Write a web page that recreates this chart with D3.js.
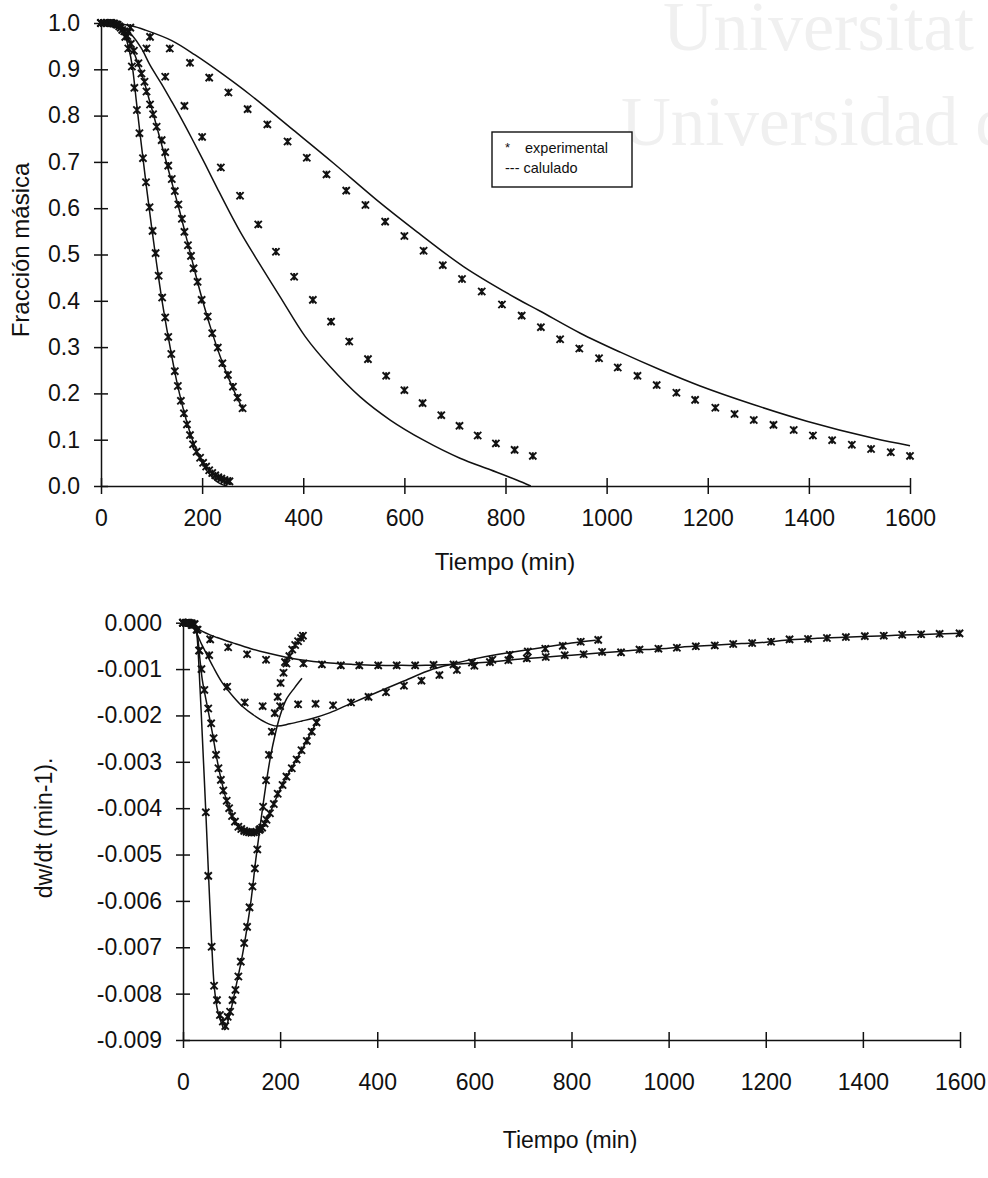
<!DOCTYPE html>
<html>
<head>
<meta charset="utf-8">
<script src="https://cdn.jsdelivr.net/npm/d3@7"></script>
<style>
  html, body { margin: 0; padding: 0; background: #fff; }
  svg { display: block; }
  text { font-family: "Liberation Sans", Arial, Helvetica, sans-serif; fill: #111; }
</style>
</head>
<body>
<svg id="chart" width="988" height="1178"></svg>
<script>
// ---------- tick values ----------
const tiempoTicks = [0, 200, 400, 600, 800, 1000, 1200, 1400, 1600];
const fraccionTicks = [0, 0.1, 0.2, 0.3, 0.4, 0.5, 0.6, 0.7, 0.8, 0.9, 1.0];
const dwdtTicks = [0, -0.001, -0.002, -0.003, -0.004, -0.005, -0.006, -0.007, -0.008, -0.009];

// ---------- mass fraction vs time: experimental [t (min), w] ----------
const masaExp1 = [[0,1.0],[6,1.0],[12,1.0],[18,1.0],[24,0.999],[30,0.997],[36,0.993],[42,0.985],[48,0.97],
  [54,0.945],[61,0.906],[66,0.860],[71,0.812],[76,0.762],[83,0.708],[89,0.656],[96,0.602],[102,0.551],
  [108,0.503],[114,0.454],[121,0.407],[127,0.364],[133,0.322],[139,0.285],[146,0.248],[152,0.216],
  [158,0.184],[164,0.157],[170,0.133],[176,0.110],[182,0.090],[189,0.074],[196,0.061],[202,0.050],
  [208,0.042],[214,0.034],[220,0.028],[226,0.023],[232,0.019],[238,0.016],[244,0.013],[250,0.011],[254,0.010]];
const masaExp2 = [[0,1.0],[7,1.0],[13,1.0],[20,1.0],[26,0.999],[33,0.996],[39,0.99],[46,0.982],[52,0.972],
  [59,0.955],[65,0.94],[74,0.913],[80,0.891],[86,0.873],[90,0.852],[97,0.824],[103,0.803],[110,0.776],
  [120,0.747],[127,0.721],[133,0.692],[140,0.663],[146,0.637],[153,0.608],[160,0.577],[165,0.549],
  [172,0.52],[178,0.497],[183,0.470],[191,0.441],[199,0.402],[211,0.366],[220,0.330],[231,0.299],
  [240,0.265],[251,0.240],[261,0.2145],[270,0.191],[280,0.168]];
const masaExp3 = [[0,1.0],[18,1.0],[54,0.98],[90,0.945],[127,0.884],[165,0.821],[200,0.754],[237,0.688],
  [275,0.627],[311,0.565],[346,0.506],[382,0.452],[419,0.402],[455,0.355],[491,0.312],[528,0.274],
  [564,0.238],[600,0.207],[636,0.179],[673,0.153],[709,0.130],[745,0.109],[781,0.092],[818,0.078],[854,0.065]];
const masaExp4 = [[0,1.0],[20,1.0],[58,0.99],[97,0.970],[136,0.945],[176,0.914],[214,0.882],[252,0.850],
  [290,0.814],[329,0.781],[369,0.744],[407,0.709],[446,0.673],[485,0.638],[523,0.607],[562,0.571],
  [600,0.540],[638,0.508],[676,0.477],[714,0.447],[753,0.420],[793,0.392],[832,0.368],[870,0.343],
  [908,0.317],[946,0.297],[985,0.276],[1022,0.256],[1061,0.238],[1099,0.218],[1138,0.2015],[1175,0.186],
  [1215,0.169],[1253,0.1555],[1291,0.1425],[1330,0.132],[1370,0.121],[1408,0.109],[1446,0.099],
  [1485,0.089],[1523,0.080],[1562,0.073],[1600,0.065]];

// ---------- mass fraction vs time: model ----------
const masaCalc1 = [[0,1],[20,1],[35,0.995],[45,0.98],[55,0.945],[62,0.906],[70,0.83],[80,0.735],[90,0.645],
  [100,0.56],[110,0.48],[120,0.405],[130,0.34],[140,0.28],[150,0.225],[160,0.178],[170,0.137],[180,0.102],
  [190,0.073],[200,0.05],[210,0.032],[220,0.019],[230,0.009],[240,0.003],[250,0]];
const masaCalc2 = [[0,1],[30,1],[45,0.99],[55,0.965],[65,0.937],[75,0.907],[85,0.874],[95,0.836],[105,0.797],
  [115,0.757],[125,0.717],[135,0.676],[145,0.636],[155,0.596],[165,0.553],[175,0.51],[185,0.466],
  [195,0.424],[205,0.385],[215,0.348],[225,0.314],[235,0.282],[245,0.253],[255,0.226],[265,0.201],
  [275,0.178],[280,0.168]];
const masaCalc3 = [[0,1],[30,0.998],[50,0.985],[61,0.974],[80,0.945],[97,0.909],[120,0.868],[140,0.83],
  [158,0.795],[180,0.75],[206,0.695],[230,0.643],[255,0.59],[280,0.54],[305,0.495],[354,0.409],
  [404,0.3225],[453,0.258],[512,0.193],[572,0.1425],[638,0.099],[710,0.060],[770,0.035],[822,0.013],[850,0]];
const masaCalc4 = [[0,1],[30,0.999],[60,0.994],[87,0.985],[140,0.962],[186,0.931],[240,0.89],[295,0.845],
  [380,0.769],[460,0.697],[545,0.618],[625,0.549],[717,0.474],[822,0.405],[868,0.378],[948,0.330],
  [1027,0.289],[1106,0.251],[1185,0.216],[1290,0.176],[1396,0.140],[1528,0.103],[1600,0.087]];

// ---------- rate dw/dt vs time: experimental [t (min), dw/dt (min-1)] ----------
const dwdtExp1 = [[0,0],[6,0],[12,0],[18,-0.00001],[24,-0.00003],[30,-0.00015],[34,-0.0006],
  [47,-0.00409],[52,-0.00546],[59,-0.00699],[64,-0.00783],[70,-0.00814],[76,-0.00846],[82,-0.0086],
  [87,-0.0087],[92,-0.0085],[97,-0.00839],[102,-0.00814],[108,-0.00792],[114,-0.00763],[119,-0.00731],
  [126,-0.00691],[132,-0.00656],[137,-0.00614],[143,-0.00569],[148,-0.0053],[153,-0.00489],[159,-0.00445],
  [165,-0.00397],[171,-0.0034],[177,-0.00285],[183,-0.00235],[189,-0.00195],[195,-0.0016],[201,-0.0013],
  [207,-0.00108],[213,-0.00088],[219,-0.00072],[225,-0.00058],[231,-0.00048],[237,-0.0004],[243,-0.00033],[247,-0.00028]];
const dwdtExp2 = [[0,0],[8,0],[15,-0.00001],[22,-0.00004],[28,-0.00015],[33,-0.0006],[38,-0.001],
  [44,-0.00145],[52,-0.00185],[58,-0.00217],[63,-0.00249],[68,-0.00285],[73,-0.00314],[78,-0.00339],
  [83,-0.00362],[90,-0.00384],[95,-0.004],[101,-0.00417],[107,-0.00429],[114,-0.0044],[120,-0.00445],
  [126,-0.00449],[131,-0.00451],[136,-0.00452],[141,-0.00453],[146,-0.00452],[151,-0.00451],[157,-0.00447],
  [163,-0.00442],[168,-0.00433],[172,-0.00425],[179,-0.00411],[187,-0.00391],[195,-0.00369],[205,-0.0035],
  [213,-0.00332],[224,-0.00314],[234,-0.00295],[244,-0.00275],[255,-0.00255],[265,-0.00235],[275,-0.00215]];
const dwdtExp3 = [[0,0],[18,-0.00005],[54,-0.0007],[91,-0.00138],[127,-0.00172],[164,-0.0018],[200,-0.0018],
  [237,-0.00176],[273,-0.00175],[309,-0.00178],[346,-0.00172],[382,-0.0016],[418,-0.0015],[455,-0.00136],
  [491,-0.00125],[528,-0.00113],[564,-0.00102],[600,-0.00093],[637,-0.0008],[673,-0.00069],[710,-0.00062],
  [746,-0.00056],[782,-0.0005],[819,-0.00041],[855,-0.00037]];
const dwdtExp4 = [[0,0],[10,0],[20,-0.00005],[56,-0.00036],[93,-0.00053],[132,-0.00068],[171,-0.0008],
  [210,-0.00085],[248,-0.00088],[286,-0.0009],[325,-0.00092],[363,-0.00092],[402,-0.00092],[440,-0.00092],
  [478,-0.00092],[516,-0.00091],[557,-0.0009],[595,-0.00086],[632,-0.00085],[670,-0.00081],[708,-0.00077],
  [747,-0.00074],[786,-0.0007],[825,-0.00068],[863,-0.00063],[902,-0.00064],[940,-0.00058],[979,-0.00056],
  [1017,-0.00054],[1056,-0.00051],[1095,-0.00049],[1133,-0.00046],[1172,-0.00044],[1211,-0.00041],
  [1249,-0.00036],[1287,-0.00035],[1326,-0.00033],[1365,-0.00031],[1404,-0.00029],[1443,-0.00028],
  [1481,-0.00026],[1520,-0.00025],[1558,-0.00024],[1599,-0.00023]];

// ---------- rate dw/dt vs time: model ----------
const dwdtCalc1 = [[0,0],[20,-0.00002],[26,-0.0001],[29,-0.0003],[35,-0.0014],[40,-0.0025],[47,-0.00409],
  [52,-0.0053],[59,-0.0069],[64,-0.0078],[70,-0.0083],[78,-0.0086],[86,-0.00878],[95,-0.0085],[102,-0.0082],
  [110,-0.0078],[120,-0.0073],[130,-0.0067],[140,-0.006],[150,-0.0051],[160,-0.0043],[170,-0.00355],
  [180,-0.0029],[190,-0.0024],[200,-0.002],[213,-0.00165],[230,-0.0014],[245,-0.0012]];
const dwdtCalc2 = [[0,0],[15,-0.00001],[25,-0.00008],[30,-0.0003],[35,-0.0008],[40,-0.00125],[50,-0.0018],
  [60,-0.00235],[70,-0.00295],[80,-0.00345],[90,-0.00385],[100,-0.00415],[110,-0.00435],[120,-0.00446],
  [130,-0.00452],[140,-0.00454],[150,-0.0045],[160,-0.00442],[170,-0.00428],[180,-0.00408],[190,-0.00383],
  [200,-0.0036],[210,-0.00338],[220,-0.0032],[230,-0.00302],[240,-0.00283],[250,-0.00264],[260,-0.00244],
  [270,-0.00224],[280,-0.00205]];
const dwdtCalc3 = [[0,0],[20,-0.0001],[40,-0.0005],[62,-0.00095],[80,-0.00128],[104,-0.0016],[125,-0.00183],
  [145,-0.00199],[170,-0.00215],[193,-0.00223],[220,-0.00218],[245,-0.00212],[268,-0.00206],[303,-0.00194],
  [344,-0.00175],[400,-0.0015],[450,-0.00128],[515,-0.001],[560,-0.00088],[600,-0.00078],[650,-0.00068],
  [700,-0.0006],[750,-0.00052],[800,-0.00044],[850,-0.00038]];
const dwdtCalc4 = [[0,0],[20,-0.00003],[35,-0.00016],[70,-0.00032],[104,-0.00044],[140,-0.00056],[172,-0.00065],
  [210,-0.00074],[241,-0.0008],[303,-0.00087],[350,-0.0009],[400,-0.00092],[450,-0.00092],[500,-0.00092],
  [550,-0.0009],[600,-0.00087],[650,-0.00083],[700,-0.00078],[750,-0.00074],[800,-0.0007],[850,-0.00066],
  [900,-0.00062],[950,-0.00058],[1000,-0.00055],[1050,-0.00051],[1100,-0.00048],[1150,-0.00045],
  [1200,-0.00042],[1250,-0.00037],[1300,-0.00034],[1350,-0.00032],[1400,-0.0003],[1450,-0.00028],
  [1500,-0.00026],[1550,-0.000245],[1600,-0.00023]];

const locale = d3.formatLocale({ decimal: ".", thousands: "", grouping: [3], currency: ["", ""], minus: "-" });

const svg = d3.select("#chart");

// faint background lettering
const marca = svg.append("g").attr("class", "marca");
marca.append("text").attr("x", 663).attr("y", 50).attr("font-size", 70)
  .style("font-family", "'Liberation Serif', 'Times New Roman', serif").style("fill", "#f0f0f0").text("Universitat d");
marca.append("text").attr("x", 621).attr("y", 145).attr("font-size", 69)
  .style("font-family", "'Liberation Serif', 'Times New Roman', serif").style("fill", "#f0f0f0").text("Universidad d");

// asterisk marker (x with a vertical bar)
function asterisk(s) {
  return `M${-s},${-s}L${s},${s}M${-s},${s}L${s},${-s}M0,${-s}L0,${s}`;
}

function panel(cfg) {
  const x = d3.scaleLinear().domain([0, 1600]).range([cfg.left, cfg.right]);
  const y = d3.scaleLinear().domain(cfg.yDomain).range([cfg.bottom, cfg.top]);
  const g = svg.append("g");

  // y axis
  const yAxis = d3.axisLeft(y).tickValues(cfg.yTicks).tickFormat(cfg.yFormat)
    .tickSizeInner(7).tickSizeOuter(0).tickPadding(cfg.yPad);
  const ya = g.append("g").attr("transform", `translate(${cfg.left},0)`).call(yAxis);
  ya.selectAll(".tick line").attr("x1", 7).attr("x2", -7);
  ya.selectAll("text").attr("font-size", cfg.tickFont).style("font-family", "'Liberation Sans', Arial, sans-serif").attr("fill", "#111");

  // x axis
  const xAxis = d3.axisBottom(x).tickValues(tiempoTicks).tickFormat(d3.format("d"))
    .tickSizeInner(8).tickSizeOuter(0).tickPadding(cfg.xPad);
  const xa = g.append("g").attr("transform", `translate(0,${cfg.bottom})`).call(xAxis);
  xa.selectAll(".tick line").attr("y1", -8).attr("y2", 8);
  xa.selectAll("text").attr("font-size", cfg.tickFont).style("font-family", "'Liberation Sans', Arial, sans-serif").attr("fill", "#111");

  g.selectAll(".domain, .tick line").attr("stroke", "#111").attr("stroke-width", 1.5);

  // titles
  g.append("text").attr("x", cfg.xTitle[0]).attr("y", cfg.xTitle[1])
    .attr("text-anchor", "middle").attr("font-size", cfg.titleFont).text("Tiempo (min)");
  g.append("text").attr("transform", `translate(${cfg.yTitle[0]},${cfg.yTitle[1]}) rotate(-90)`)
    .attr("text-anchor", "middle").attr("font-size", cfg.titleFont).text(cfg.yLabel);

  // model curves
  const line = d3.line().x(d => x(d[0])).y(d => y(d[1])).curve(d3.curveCatmullRom.alpha(0.5));
  g.append("g").selectAll("path").data(cfg.calc).join("path")
    .attr("d", line).attr("fill", "none").attr("stroke", "#111").attr("stroke-width", 1.5);

  // experimental points
  cfg.exp.forEach(serie => {
    g.append("g").selectAll("path").data(serie).join("path")
      .attr("transform", d => `translate(${x(d[0])},${y(d[1])})`)
      .attr("d", asterisk(3.6)).attr("fill", "none")
      .attr("stroke", "#111").attr("stroke-width", 1.9);
  });
  return g;
}

// upper panel: mass fraction
panel({
  left: 101, right: 910, top: 23, bottom: 486,
  yDomain: [0, 1], yTicks: fraccionTicks, yFormat: locale.format(".1f"),
  yPad: 14, xPad: 16, tickFont: 23, titleFont: 24,
  xTitle: [505, 570], yTitle: [29, 250], yLabel: "Fracción másica",
  calc: [masaCalc1, masaCalc2, masaCalc3, masaCalc4],
  exp: [masaExp1, masaExp2, masaExp3, masaExp4]
});

// lower panel: rate of mass loss
panel({
  left: 183, right: 960, top: 622.7, bottom: 1040,
  yDomain: [-0.009, 0], yTicks: dwdtTicks, yFormat: locale.format(".3f"),
  yPad: 14, xPad: 26, tickFont: 23, titleFont: 23,
  xTitle: [570, 1148], yTitle: [52, 828], yLabel: "dw/dt (min-1).",
  calc: [dwdtCalc1, dwdtCalc2, dwdtCalc3, dwdtCalc4],
  exp: [dwdtExp1, dwdtExp2, dwdtExp3, dwdtExp4]
});

// legend
const leg = svg.append("g");
leg.append("rect").attr("x", 492).attr("y", 132).attr("width", 140).attr("height", 55)
  .attr("fill", "#fff").attr("stroke", "#111").attr("stroke-width", 1.4);
leg.append("text").attr("x", 505).attr("y", 152).attr("font-size", 13).text("*");
leg.append("text").attr("x", 525).attr("y", 153).attr("font-size", 14.5).text("experimental");
leg.append("text").attr("x", 505).attr("y", 173).attr("font-size", 14.5).text("--- calulado");
</script>
</body>
</html>
